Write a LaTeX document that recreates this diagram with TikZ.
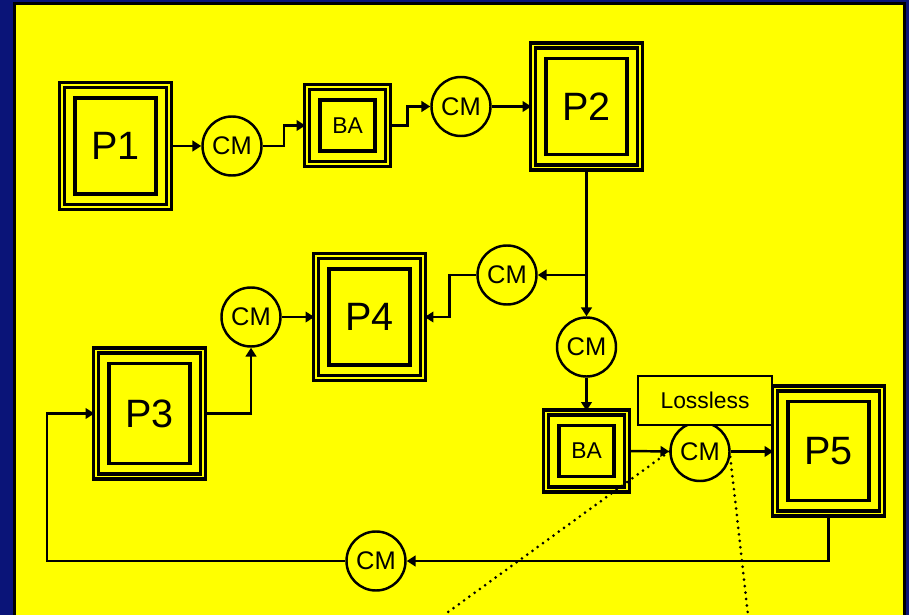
\documentclass[tikz,border=0pt]{standalone}
\usepackage{fontspec}
\setmainfont{Liberation Sans}
\usepackage{tikz}
\usetikzlibrary{arrows.meta,positioning,calc}
\definecolor{slideBlue}{RGB}{10,20,120}
\definecolor{boxYellow}{RGB}{255,255,0}

\begin{document}
\begin{tikzpicture}[
  pbox/.style={rectangle,draw,line width=1.9pt,double=boxYellow,double distance=1.0pt,
               fill=boxYellow,minimum width=2.14cm,minimum height=2.44cm,inner sep=0pt,
               font=\fontsize{22.5}{22.5}\selectfont,
               path picture={\draw[line width=1.9pt]
                 ([shift={(0.26,0.26)}]path picture bounding box.south west) rectangle
                 ([shift={(-0.26,-0.26)}]path picture bounding box.north east);}},
  babox/.style={pbox,minimum width=1.62cm,minimum height=1.54cm,
                font=\fontsize{13}{13}\selectfont},
  cmring/.style={circle,draw,line width=1.4pt,fill=boxYellow,minimum size=1.18cm,inner sep=0pt,
             font=\fontsize{14.5}{14.5}\selectfont},
  tag/.style={rectangle,draw,line width=1.4pt,fill=boxYellow,minimum width=2.68cm,
              minimum height=0.98cm,font=\fontsize{13}{13}\selectfont},
  arr/.style={-{Triangle[length=5pt,width=6pt]},line width=1.4pt},
  dots/.style={line width=1.7pt,line cap=round,dash pattern=on 0pt off 3.7pt}
]
  \useasboundingbox (0,0) rectangle (18.18,-12.30);
  \fill[slideBlue] (0,0) rectangle (18.18,-12.30);
  \draw[line width=1.8pt,fill=boxYellow] (0.29,-0.07) rectangle (18.09,-12.60);

  \node[pbox]   (p1)  at (2.31,-2.92)  {P1};
  \node[cmring] (cm1) at (4.64,-2.92)  {CM};
  \node[babox]  (ba1) at (6.95,-2.51)  {BA};
  \node[cmring] (cm2) at (9.22,-2.13)  {CM};
  \node[pbox]   (p2)  at (11.73,-2.13) {P2};
  \node[cmring] (cm3) at (10.14,-5.50) {CM};
  \node[pbox]   (p4)  at (7.39,-6.34)  {P4};
  \node[cmring] (cm5) at (5.02,-6.34)  {CM};
  \node[cmring] (cm4) at (11.73,-6.94) {CM};
  \node[pbox,minimum height=2.52cm] (p3) at (2.99,-8.27) {P3};
  \node[babox]  (ba2) at (11.73,-9.02) {BA};
  \node[cmring] (cm7) at (14.00,-9.03) {CM};
  \node[pbox,minimum height=2.5cm] (p5) at (16.57,-9.02) {P5};
  \node[tag]    (ll)  at (14.10,-8.01) {Lossless};
  \node[cmring] (cm6) at (7.52,-11.22) {CM};
  \coordinate (loop) at (0.94,-11.22);
  \coordinate (tailA) at (8.88,-12.30);
  \coordinate (tailB) at (14.96,-12.30);

  \draw[arr](p1)--(cm1);
  \draw[arr](cm1.east)--++(0.42,0)|-(ba1.west);
  \draw[arr](ba1.east)--++(0.36,0)|-(cm2.west);
  \draw[arr](cm2)--(p2);
  \draw[arr](p2.south)--(cm4.north);
  \draw[arr](p2.south|-cm3.east)--(cm3.east);
  \draw[arr](cm3.west)--++(-0.54,0)|-(p4.east);
  \draw[arr](cm5)--(p4);
  \draw[arr](p3.east)-|(cm5.south);
  \draw[arr](cm4)--(ba2);
  \draw[arr](ba2.east)--(cm7.west);
  \draw[arr](cm7.east)--(p5.west|-cm7.east);
  \draw[arr](p5.south)|-(cm6.east);
  % feedback to P3
  \draw[arr](cm6.west)--(loop)|-(p3.west);
  \draw[dots](cm7.west)--(tailA);
  \draw[dots](cm7.-10)--(tailB);
\end{tikzpicture}
\end{document}
